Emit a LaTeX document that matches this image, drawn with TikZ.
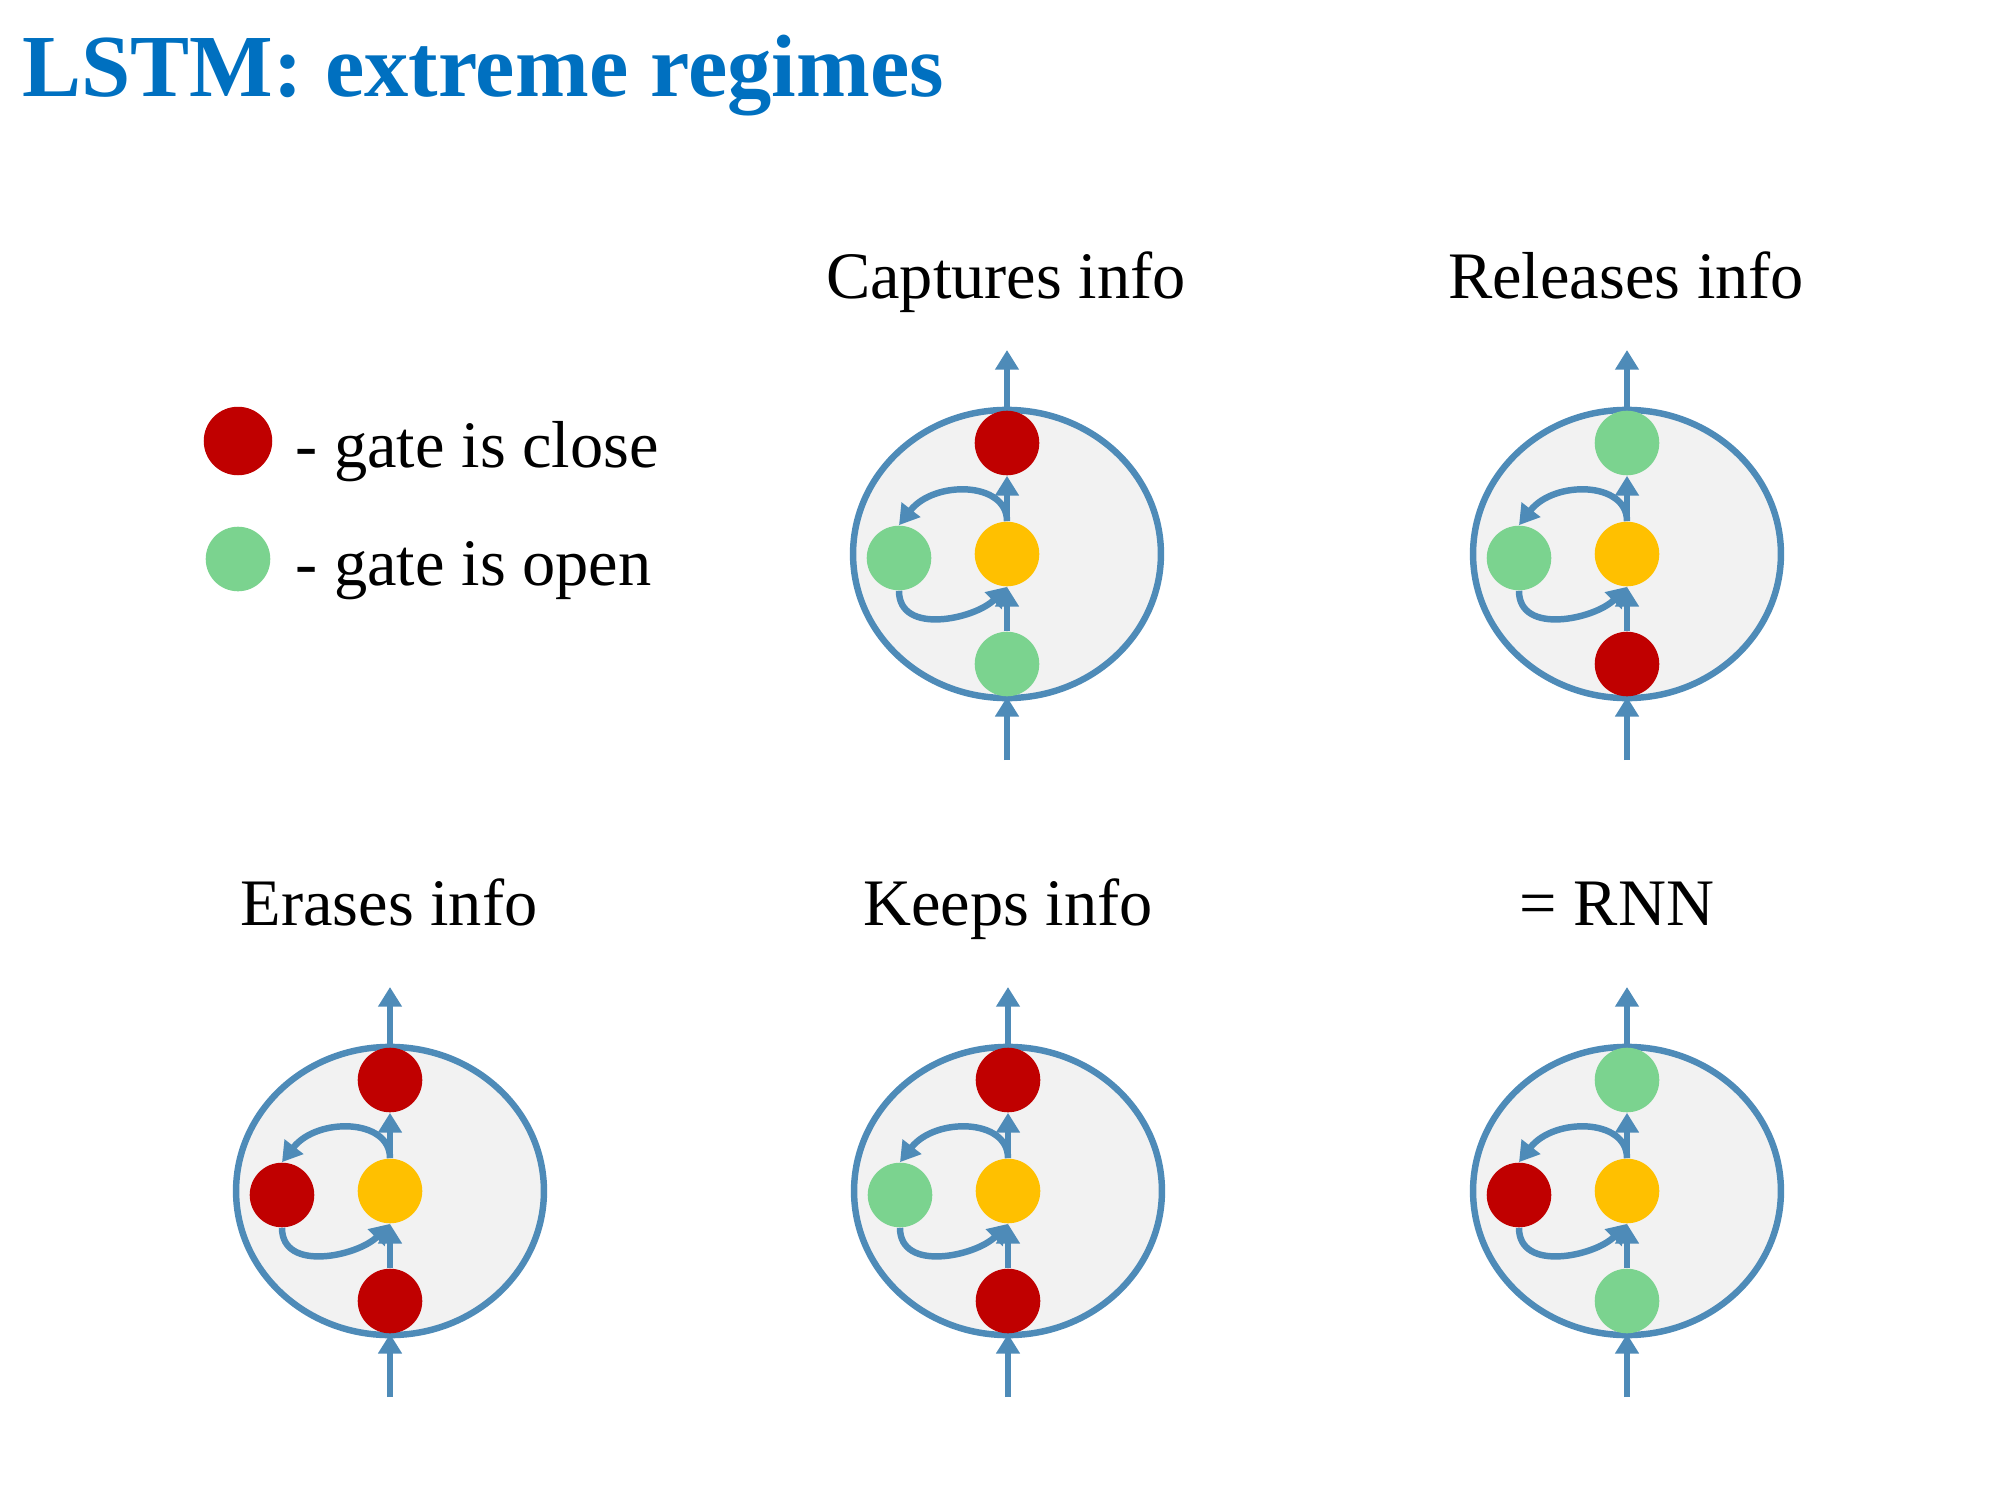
\documentclass[tikz,border=0pt]{standalone}
\usepackage{fontspec}
\setmainfont{Liberation Serif}
\usetikzlibrary{arrows.meta, shapes.geometric}
\definecolor{TITLEBLUE}{HTML}{0070C0}
\definecolor{LINEBLUE}{HTML}{4E8BB8}
\definecolor{CELLGRAY}{HTML}{F2F2F2}
\definecolor{GATERED}{HTML}{C00000}
\definecolor{GATEGREEN}{HTML}{7BD38F}
\definecolor{GATEYELLOW}{HTML}{FFC000}
\tikzset{
    gate/.style={circle, inner sep=0pt, minimum size=8.2mm},
    cellbody/.style={ellipse, draw=LINEBLUE, fill=CELLGRAY, line width=0.82mm, inner sep=0pt, minimum width=39.1mm, minimum height=36.6mm},
    flow/.style={LINEBLUE, line width=0.82mm, -{Triangle[length=2.5mm, width=2.9mm]}},
    celltitle/.style={anchor=base, inner sep=0pt, font=\fontsize{24}{29}\selectfont},
    keytext/.style={anchor=base west, inner sep=0pt, font=\fontsize{24}{29}\selectfont}
}
% one memory cell: name, x, y, top gate, left gate, bottom gate
\newcommand*{\GateCell}[6]{%
    \node[cellbody] (#1) at (#2,#3) {};
    \node[gate, fill=GATEYELLOW] (#1-mid) at (#2,#3) {};
    \node[gate, fill=#4] (#1-top) at (#2,#3-111) {};
    \node[gate, fill=#5] (#1-left) at (#2-108,#3+4) {};
    \node[gate, fill=#6] (#1-bot) at (#2,#3+110) {};
    \coordinate (#1-out) at (#2,#3-204);
    \coordinate (#1-in) at (#2,#3+206);
    \draw[flow] (#1-top) -- (#1-out);
    \draw[flow] (#1-in) -- (#1-bot);
    \draw[flow] (#1-bot) -- (#1-mid);
    \draw[flow] (#1-mid) -- (#1-top);
    \draw[flow] (#1-mid.north) .. controls +(0,-40) and +(35,-45) .. (#1-left.north);
    \draw[flow] (#1-left.south) .. controls +(0,45) and +(-32,32) .. (#1-mid.south);
}

\begin{document}
\begin{tikzpicture}[x=0.127mm, y=-0.127mm]
    \useasboundingbox (0,0) rectangle (2000,1500);
    % Title
    \node[TITLEBLUE, anchor=base west, inner sep=0pt, font=\bfseries\fontsize{32}{38}\selectfont] (title) at (22,96) {LSTM: extreme regimes};
    % Legend
    \node[gate, fill=GATERED, minimum size=8.7mm] (key-close) at (238,441) {};
    \node[keytext] (txt-close) at (295,467) {- gate is close};
    \node[gate, fill=GATEGREEN] (key-open) at (238,559) {};
    \node[keytext] (txt-open) at (295,585) {- gate is open};
    % Top row
    \node[celltitle] (t-cap) at (1006,298) {Captures info};
    \GateCell{cap}{1007}{554}{GATERED}{GATEGREEN}{GATEGREEN}
    \node[celltitle] (t-rel) at (1626,298) {Releases info};
    \GateCell{rel}{1627}{554}{GATEGREEN}{GATEGREEN}{GATERED}
    % Bottom row
    \node[celltitle] (t-era) at (389,925) {Erases info};
    \GateCell{era}{390}{1191}{GATERED}{GATERED}{GATERED}
    \node[celltitle] (t-keep) at (1008,925) {Keeps info};
    \GateCell{keep}{1008}{1191}{GATERED}{GATEGREEN}{GATERED}
    \node[celltitle] (t-rnn) at (1617,925) {= RNN};
    \GateCell{rnn}{1627}{1191}{GATEGREEN}{GATERED}{GATEGREEN}
\end{tikzpicture}
\end{document}
